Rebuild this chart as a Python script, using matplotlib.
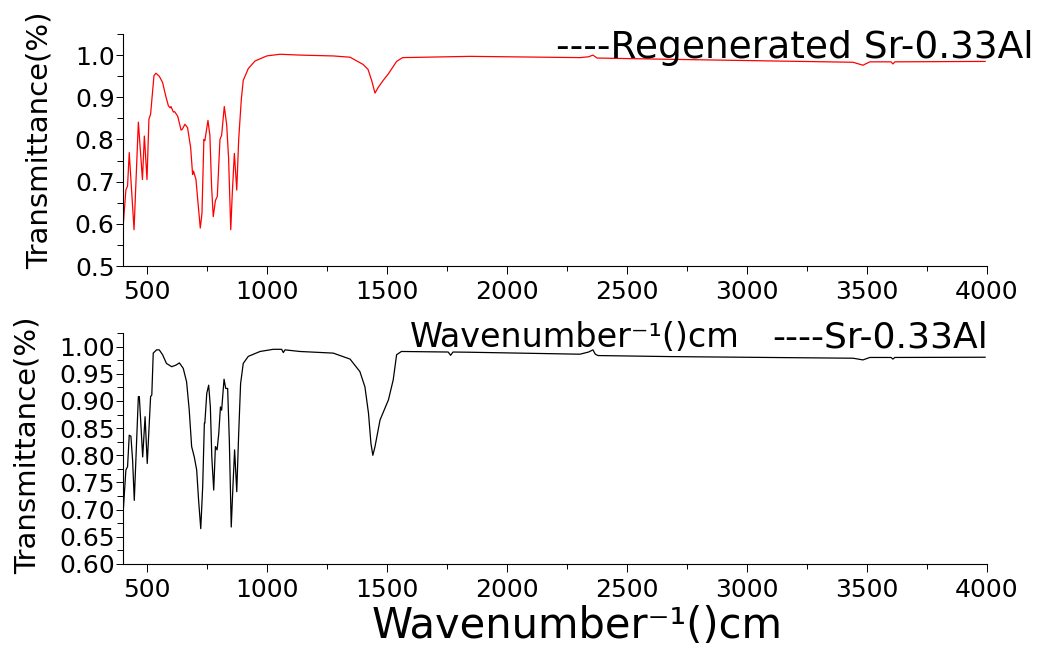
import matplotlib
matplotlib.use('Agg')
import matplotlib.pyplot as plt
from matplotlib.ticker import MultipleLocator, FormatStrFormatter

plt.rcParams['font.family'] = ['DejaVu Sans']

# Regenerated Sr-0.33Al (верхний спектр)
regen_wn = [400, 412, 419, 426, 446, 464, 481, 489, 500, 508, 515, 529, 537, 551,
            565, 578, 589, 596, 600, 610, 615, 628, 642, 648, 658, 669, 682, 690,
            694, 704, 714, 722, 729, 737, 741, 754, 762, 769, 776, 785, 793, 804,
            811, 822, 832, 840, 849, 855, 864, 874, 882, 893, 901, 922, 950, 999,
            1054, 1137, 1275, 1346, 1400, 1421, 1436, 1450, 1463, 1484, 1505, 1540,
            1565, 1846, 2304, 2340, 2358, 2375, 2679, 3442, 3483, 3512, 3600, 3608,
            3616, 3992]
regen_tr = [0.59, 0.68, 0.69, 0.769, 0.586, 0.841, 0.705, 0.808, 0.705, 0.848, 0.86,
            0.951, 0.957, 0.95, 0.935, 0.903, 0.88, 0.875, 0.878, 0.865, 0.866, 0.855,
            0.822, 0.825, 0.836, 0.828, 0.78, 0.717, 0.725, 0.705, 0.64, 0.59, 0.625,
            0.8, 0.797, 0.845, 0.81, 0.69, 0.617, 0.655, 0.665, 0.8, 0.81, 0.878,
            0.835, 0.755, 0.586, 0.668, 0.767, 0.68, 0.8, 0.895, 0.94, 0.968, 0.986,
            0.998, 1.002, 1.0, 0.998, 0.995, 0.978, 0.966, 0.94, 0.91, 0.923, 0.94,
            0.955, 0.985, 0.994, 0.997, 0.994, 0.996, 1.0, 0.993, 0.99, 0.983, 0.976,
            0.984, 0.984, 0.979, 0.984, 0.985]

# Sr-0.33Al (нижний спектр)
fresh_wn = [400, 412, 419, 426, 433, 440, 447, 457, 464, 468, 475, 482, 492, 501,
            508, 515, 520, 526, 540, 551, 565, 581, 603, 621, 635, 651, 665, 676,
            686, 697, 707, 715, 724, 732, 739, 741, 749, 757, 764, 770, 778, 785,
            792, 799, 806, 811, 821, 828, 836, 843, 851, 858, 865, 874, 882, 890,
            901, 922, 971, 1026, 1061, 1068, 1075, 1137, 1276, 1346, 1387, 1408,
            1423, 1433, 1441, 1450, 1471, 1506, 1526, 1540, 1560, 1755, 1765, 1775,
            1846, 2304, 2340, 2358, 2368, 2379, 2679, 3442, 3483, 3512, 3600, 3608,
            3616, 3992]
fresh_tr = [0.69, 0.773, 0.779, 0.837, 0.835, 0.791, 0.717, 0.829, 0.908, 0.908,
            0.853, 0.797, 0.871, 0.785, 0.846, 0.908, 0.911, 0.988, 0.994, 0.994,
            0.985, 0.969, 0.963, 0.966, 0.970, 0.960, 0.935, 0.883, 0.816, 0.797,
            0.773, 0.717, 0.665, 0.742, 0.859, 0.859, 0.914, 0.929, 0.889, 0.797,
            0.736, 0.816, 0.810, 0.840, 0.889, 0.883, 0.940, 0.923, 0.923, 0.828,
            0.668, 0.742, 0.810, 0.733, 0.840, 0.932, 0.969, 0.982, 0.991, 0.995,
            0.995, 0.989, 0.994, 0.991, 0.988, 0.977, 0.954, 0.926, 0.877, 0.822,
            0.800, 0.816, 0.865, 0.902, 0.939, 0.985, 0.991, 0.990, 0.984, 0.990,
            0.9896, 0.986, 0.99, 0.994, 0.986, 0.9835, 0.9816, 0.9786, 0.9755, 0.980,
            0.980, 0.977, 0.980, 0.9804]

W, H = 1062, 650
fig = plt.figure(figsize=(W / 100, H / 100), dpi=100)

ax1 = fig.add_axes([123 / W, 1 - 266 / H, 864 / W, 232 / H])
ax2 = fig.add_axes([123 / W, 1 - 564 / H, 864 / W, 231 / H])

ax1.plot(regen_wn, regen_tr, color='#ff0000', lw=0.9)
ax2.plot(fresh_wn, fresh_tr, color='black', lw=0.9)

ax1.set_ylim(0.5, 1.05)
ax1.yaxis.set_major_locator(MultipleLocator(0.1))
ax1.yaxis.set_minor_locator(MultipleLocator(0.05))
ax1.yaxis.set_major_formatter(FormatStrFormatter('%.1f'))

ax2.set_ylim(0.6, 1.025)
ax2.yaxis.set_major_locator(MultipleLocator(0.05))
ax2.yaxis.set_minor_locator(MultipleLocator(0.025))
ax2.yaxis.set_major_formatter(FormatStrFormatter('%.2f'))

for ax in (ax1, ax2):
    ax.set_xlim(400, 4000)
    ax.xaxis.set_major_locator(MultipleLocator(500))
    ax.xaxis.set_minor_locator(MultipleLocator(250))
    ax.spines['top'].set_visible(False)
    ax.spines['right'].set_visible(False)
    ax.spines['left'].set_linewidth(0.8)
    ax.spines['bottom'].set_linewidth(0.8)
    ax.tick_params(axis='x', which='major', direction='out', length=6, width=0.7,
                   pad=4, labelsize=18)
    ax.tick_params(axis='x', which='minor', direction='out', length=3.5, width=0.7)
    ax.tick_params(axis='y', which='major', direction='out', length=5, width=0.7,
                   pad=1, labelsize=18)
    ax.tick_params(axis='y', which='minor', direction='out', length=4, width=0.7)

# подписи
fig.text(556 / W, 1 - 58 / H, '----Regenerated Sr-0.33Al', fontsize=27,
         ha='left', va='baseline')
fig.text(410 / W, 1 - 347 / H, 'Wavenumber⁻¹()cm', fontsize=24,
         ha='left', va='baseline')
fig.text(772 / W, 1 - 347 / H, '----Sr-0.33Al', fontsize=26,
         ha='left', va='baseline')
fig.text(372 / W, 1 - 638 / H, 'Wavenumber⁻¹()cm', fontsize=30,
         ha='left', va='baseline')
fig.text(40 / W, 1 - 140 / H, 'Transmittance(%)', fontsize=21, rotation=90,
         ha='center', va='center')
fig.text(28 / W, 1 - 445 / H, 'Transmittance(%)', fontsize=21, rotation=90,
         ha='center', va='center')

fig.savefig('out.png', dpi=100)
